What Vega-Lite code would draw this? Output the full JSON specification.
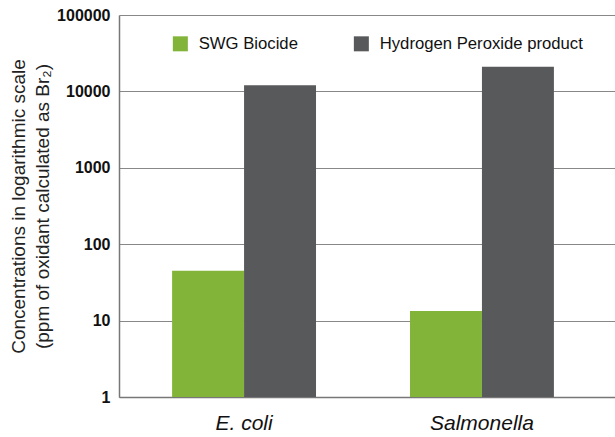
{
  "$schema": "https://vega.github.io/schema/vega-lite/v6.json",
  "width": 496,
  "height": 382,
  "autosize": "none",
  "padding": {"left": 119, "top": 15, "right": 0, "bottom": 40},
  "background": "white",
  "config": {
    "font": "Liberation Sans",
    "view": {"stroke": null}
  },
  "data": {
    "values": [
      {"organism": "E. coli", "product": "SWG Biocide", "ppm": 45},
      {"organism": "E. coli", "product": "Hydrogen Peroxide product", "ppm": 12000},
      {"organism": "Salmonella", "product": "SWG Biocide", "ppm": 13.4},
      {"organism": "Salmonella", "product": "Hydrogen Peroxide product", "ppm": 21000}
    ]
  },
  "mark": {"type": "bar"},
  "encoding": {
    "x": {
      "field": "organism",
      "type": "nominal",
      "sort": ["E. coli", "Salmonella"],
      "scale": {"paddingInner": 0.395, "paddingOuter": 0.24, "align": 0.465},
      "axis": {
        "title": null,
        "labelAngle": 0,
        "labelFontSize": 21,
        "labelFontStyle": "italic",
        "labelColor": "#111",
        "labelPadding": 15,
        "labelDx": 2,
        "ticks": false,
        "domainColor": "#777",
        "domainWidth": 1.5
      }
    },
    "xOffset": {
      "field": "product",
      "type": "nominal",
      "sort": ["SWG Biocide", "Hydrogen Peroxide product"]
    },
    "y": {
      "field": "ppm",
      "type": "quantitative",
      "scale": {"type": "log", "domain": [1, 100000]},
      "axis": {
        "title": ["Concentrations in logarithmic scale", "(ppm of oxidant calculated as Br₂)"],
        "titleFontSize": 19,
        "titleFontWeight": "normal",
        "titleColor": "#222",
        "titleLineHeight": 24,
        "titlePadding": 4,
        "values": [1, 10, 100, 1000, 10000, 100000],
        "format": "d",
        "labelFontSize": 16,
        "labelFontWeight": "bold",
        "labelColor": "#111",
        "labelPadding": 9,
        "ticks": false,
        "domainColor": "#777",
        "domainWidth": 1.5,
        "grid": true,
        "gridColor": "#888",
        "gridWidth": 1.2
      }
    },
    "y2": {"datum": 1},
    "color": {
      "field": "product",
      "type": "nominal",
      "sort": ["SWG Biocide", "Hydrogen Peroxide product"],
      "scale": {"domain": ["SWG Biocide", "Hydrogen Peroxide product"], "range": ["#82b43a", "#58595b"]},
      "legend": {
        "title": null,
        "orient": "none",
        "direction": "horizontal",
        "legendX": 53,
        "legendY": 20,
        "symbolType": "square",
        "symbolSize": 225,
        "symbolStrokeWidth": 0,
        "labelFontSize": 16.7,
        "labelLimit": 0,
        "labelColor": "#111",
        "labelOffset": 10,
        "columnPadding": 55
      }
    }
  }
}
